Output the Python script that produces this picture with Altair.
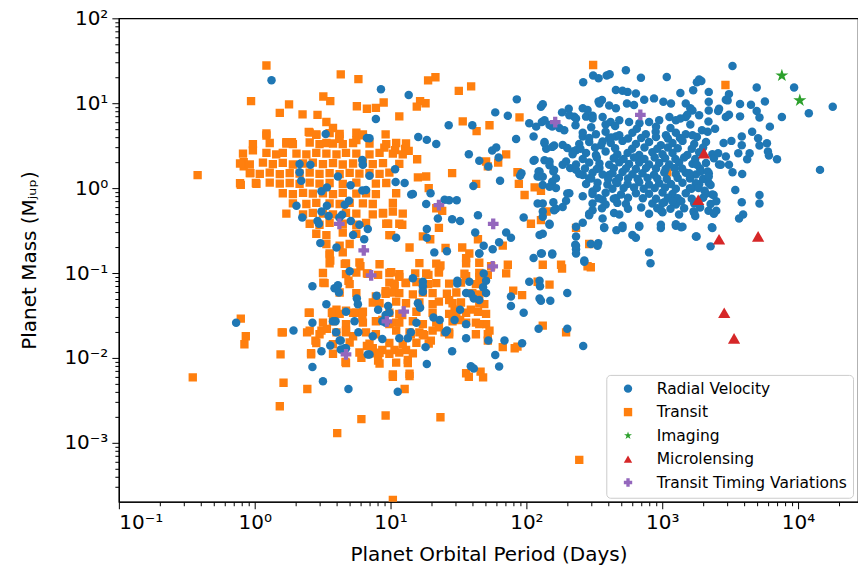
import altair as alt
import pandas as pd

# ---------------- data (period in days, mass in M_jup) ----------------
rv_points = [
    (1.33, 18.6), (3.33, 4.35), (6.7, 3.9), (2.14, 1.92), (2.57, 1.88), (2.14, 1.54), (2.2, 1.22), (4.1, 1.37),
    (5.08, 1.08), (6.2, 2.15), (6.25, 1.88), (3.1, 0.92), (3.4, 1.02), (2.03, 0.62), (2.24, 0.45), (3.4, 0.62),
    (3.1, 0.53), (3.5, 0.47), (2.9, 0.41), (2.97, 0.38), (4.6, 0.635), (4.94, 0.71), (4.4, 0.485), (4.2, 0.45),
    (5.1, 0.41), (5.9, 0.37), (5.3, 0.28), (6.4, 0.25), (6.8, 0.33), (3.04, 0.225), (4.0, 0.20), (6.2, 0.94),
    (6.6, 0.95), (7.0, 1.4), (7.0, 3.87), (8.5, 14.6), (13.6, 12.5), (7.8, 6.5), (10.8, 1.67), (10.9, 1.18),
    (12.7, 1.15), (14.2, 0.84), (11.0, 0.26),
    (85, 11.1), (59, 7.8), (73, 7.1), (26.8, 5.5), (40, 5.5), (16, 4.0), (18.5, 3.7), (21.7, 3.3), (84, 3.8),
    (37.7, 2.5), (45, 2.1), (56, 2.78), (60, 3.0), (62.5, 2.3), (52.5, 1.8), (113, 2.1), (92, 1.5), (90, 1.4),
    (123, 1.57), (121, 1.37), (64, 1.22), (40.7, 1.06), (14.6, 0.85), (19.7, 0.87), (25, 0.73), (27, 0.72),
    (30.7, 0.72), (18.3, 0.65), (22.3, 0.44), (28.4, 0.43), (32.5, 0.41), (44, 0.48), (18.5, 0.33), (18.5, 0.26),
    (42, 0.30), (71, 0.30), (77, 0.26), (63, 0.23), (48.5, 0.21), (45, 0.17), (56.5, 0.19), (21, 0.175),
    (26, 0.18), (95.5, 0.45), (148, 0.37), (132, 0.53), (158, 0.68), (165, 0.57), (121, 0.66), (125, 0.28),
    (130, 0.17), (155, 0.17), (113, 0.15), (374, 0.345), (229, 0.215), (232, 0.19), (267, 0.14), (338, 0.225),
    (196, 0.71), (132, 1.09),
    (262, 17.7), (310, 21.2), (340, 19.7), (390, 21.2), (410, 22), (456, 14.3), (128, 9.1), (132, 9.7),
    (183, 7.8), (205, 8.6), (260, 8.7), (340, 10.5), (360, 10.9), (407, 9.4), (456, 8.7), (105, 5.8),
    (118, 5.3), (130, 6.0), (148, 5.55), (175, 5.1), (225, 6.95), (275, 6.95), (307, 7.1), (113, 4.06),
    (136, 3.38), (140, 2.9), (160, 3.18), (185, 3.23), (200, 2.96), (219, 2.7), (232, 2.8), (260, 4.06),
    (364, 3.54), (407, 3.87), (456, 4.06), (115, 2.15), (125, 1.57), (125, 1.37), (148, 2.06), (158, 1.57),
    (165, 1.31), (185, 1.88), (196, 2.06), (210, 1.72), (232, 1.64), (260, 1.43), (290, 1.31), (345, 1.72),
    (407, 1.43), (456, 1.2), (165, 1.0), (207, 0.87), (260, 0.80), (307, 0.91), (364, 0.73), (456, 0.76),
    (307, 0.55), (290, 0.48), (364, 0.44), (260, 0.39), (460, 0.32),
    (540, 24.4), (697, 20), (1080, 20.4), (1870, 19.0), (1940, 18.3), (1690, 14.2), (1360, 13.2), (2200, 13.6),
    (2200, 10.4), (2940, 11), (510, 14.0), (556, 13.6), (640, 13.0), (737, 11), (870, 11.4), (1020, 10.4),
    (1160, 9.9), (1490, 9.9), (345, 9.9), (550, 9.9), (620, 9.5), (207, 7.2), (232, 6.6), (282, 8.3),
    (307, 6.6), (136, 6.3), (155, 5.3), (190, 4.8), (364, 6.9), (383, 5.6), (417, 6.0), (483, 6.3),
    (570, 6.0), (680, 5.8), (800, 6.0), (950, 6.3), (1130, 6.9), (1260, 6.3), (1490, 6.9), (1670, 8.2),
    (1870, 7.2), (2200, 8.2), (2620, 8.6), (2940, 6.9), (3030, 10.8),
    (260, 4.5), (325, 4.3), (383, 4.6), (483, 4.2), (603, 4.5), (757, 4.3), (895, 4.6), (1065, 4.2), (1260, 4.5),
    (1490, 4.3),
    (245, 3.3), (290, 3.5), (355, 3.2), (418, 3.4), (510, 3.6), (640, 3.3), (800, 3.5), (977, 3.2), (1190, 3.4),
    (1410, 3.6), (1720, 3.3), (2100, 3.5),
    (219, 2.5), (275, 2.6), (325, 2.45), (383, 2.7), (467, 2.5), (556, 2.6), (677, 2.45), (846, 2.65), (1005, 2.5),
    (1190, 2.6), (1530, 2.45), (1870, 2.65), (2340, 2.5),
    (232, 1.9), (290, 2.0), (345, 1.95), (407, 1.88), (483, 2.02), (570, 1.92), (677, 2.0), (800, 1.9), (950, 1.98),
    (1125, 1.9), (1330, 2.0), (1670, 1.93), (2100, 1.98), (2620, 1.9),
    (245, 1.47), (307, 1.52), (364, 1.45), (430, 1.5), (510, 1.55), (603, 1.46), (715, 1.5), (870, 1.44),
    (1035, 1.53), (1260, 1.47), (1490, 1.52), (1770, 1.45), (2200, 1.5),
    (275, 1.12), (334, 1.16), (395, 1.1), (467, 1.15), (556, 1.12), (677, 1.17), (800, 1.1), (950, 1.14),
    (1160, 1.12), (1410, 1.16), (1870, 1.11), (2200, 1.15),
    (307, 0.85), (383, 0.88), (497, 0.84), (640, 0.87), (800, 0.86), (1005, 0.89), (1190, 0.85), (1490, 0.87),
    (2100, 0.86), (2340, 0.84),
    (307, 0.66), (383, 0.64), (467, 0.67), (540, 0.65), (846, 0.66), (1035, 0.68), (1260, 0.64), (1720, 0.66),
    (2270, 0.65),
    (290, 0.5), (442, 0.51), (483, 0.49), (800, 0.5), (1005, 0.52), (1330, 0.49), (1720, 0.51), (2400, 0.5),
    (232, 0.35), (374, 0.34), (510, 0.36), (677, 0.35), (977, 0.34), (1260, 0.36), (1410, 0.35), (2340, 0.34),
    (232, 0.27), (640, 0.26), (1770, 0.27), (232, 0.21), (298, 0.22), (334, 0.21),
    (128, 0.17), (155, 0.165), (232, 0.17), (800, 0.175),
    (290, 3.9), (420, 3.95), (560, 3.85), (700, 3.9), (900, 4.0), (1100, 3.85), (1350, 3.9), (1800, 4.0),
    (250, 2.9), (320, 3.0), (450, 2.95), (600, 2.9), (740, 3.0), (920, 2.9), (1100, 3.0), (1300, 2.95),
    (1650, 2.9), (2000, 3.0),
    (260, 2.2), (330, 2.3), (440, 2.25), (520, 2.2), (620, 2.3), (740, 2.2), (880, 2.3), (1050, 2.25),
    (1250, 2.2), (1450, 2.3), (1750, 2.2), (2400, 2.25),
    (270, 1.7), (330, 1.68), (440, 1.72), (540, 1.7), (640, 1.68), (760, 1.72), (900, 1.7), (1060, 1.68),
    (1230, 1.72), (1400, 1.7), (1900, 1.7),
    (300, 1.3), (400, 1.28), (480, 1.32), (560, 1.3), (660, 1.28), (780, 1.32), (920, 1.3), (1080, 1.28),
    (1300, 1.32), (1600, 1.3), (2000, 1.28),
    (330, 1.0), (430, 0.98), (520, 1.0), (620, 1.02), (730, 0.98), (880, 1.0), (1050, 1.02), (1260, 0.98),
    (1600, 1.0),
    (340, 0.76), (440, 0.75), (560, 0.77), (720, 0.76), (900, 0.75), (1100, 0.77), (1300, 0.76), (1650, 0.75),
    (2000, 0.77),
    (360, 0.58), (560, 0.57), (700, 0.59), (920, 0.58), (1150, 0.57), (1450, 0.58), (1900, 0.59),
    (230, 5.5), (300, 5.2), (450, 5.4), (650, 5.0), (900, 5.3), (1150, 5.1),
    (136, 3.5), (155, 3.06), (136, 2.13), (148, 1.86), (160, 1.63), (132, 1.36), (155, 1.19), (148, 1.04),
    (200, 0.866), (185, 0.6), (132, 0.66), (160, 0.55), (132, 0.46), (148, 0.38), (132, 0.29),
    (3290, 27.5), (1800, 17.7), (3100, 12.8), (4960, 15.3), (9350, 15.3), (5700, 10.5), (3740, 9.8), (4500, 9.6),
    (2580, 8.1), (3100, 7.3), (3740, 7.0), (4960, 8.1), (5200, 6.8), (7600, 6.9), (12000, 7.6), (18000, 9.1),
    (6200, 5.3), (2190, 6.1), (2450, 5.0), (1610, 5.6), (1670, 4.2), (1960, 4.8), (2160, 4.6), (2830, 3.4),
    (3230, 3.6), (3850, 4.06), (3850, 3.2), (4590, 4.6), (5080, 3.87), (5200, 3.18), (5900, 3.38), (4400, 2.58),
    (4220, 2.19), (3630, 2.58), (6000, 2.7), (6100, 2.42), (7000, 2.19), (2580, 2.58), (2940, 2.36), (2700, 1.88),
    (3100, 1.88), (3290, 1.54), (3880, 1.47), (14500, 1.64), (1580, 1.5), (1800, 1.88), (1920, 1.57), (2160, 1.57),
    (2200, 1.37), (2270, 1.09), (1770, 1.14), (1640, 0.98), (1850, 1.0), (2050, 0.93), (2390, 0.83), (2500, 0.70),
    (2190, 0.54), (2500, 0.54), (1700, 0.53), (1750, 0.47), (3450, 0.95), (3850, 0.68), (5200, 0.83), (5200, 0.66),
    (3940, 0.49), (3680, 0.44), (2320, 0.345), (1790, 0.27), (2270, 0.206), (977, 0.37), (1260, 0.375),
    (1380, 0.345), (603, 0.28), (510, 0.34), (677, 0.36), (820, 0.13), (1190, 0.70), (1380, 0.70), (1005, 0.67),
    (977, 0.55), (1610, 8.7), (1530, 7.3), (1360, 6.6),
    (5.0, 0.105), (2.66, 0.070), (4.1, 0.072), (3.87, 0.066), (4.17, 0.059), (3.37, 0.043), (5.65, 0.050),
    (5.75, 0.043), (4.7, 0.035), (2.66, 0.026), (3.77, 0.027), (3.94, 0.027), (5.43, 0.027), (1.93, 0.021),
    (3.97, 0.020), (5.8, 0.020), (4.22, 0.016), (3.1, 0.012), (3.6, 0.014), (4.7, 0.013), (6.8, 0.011),
    (2.66, 0.0078), (3.18, 0.0053), (4.9, 0.0043), (0.73, 0.026), (14.6, 0.087), (17.3, 0.079), (17.3, 0.070),
    (17.3, 0.060), (7.9, 0.054), (31, 0.081), (31, 0.075), (38, 0.079), (48.5, 0.099), (50.5, 0.081), (48, 0.068),
    (50.5, 0.058), (36, 0.058), (39, 0.057), (41, 0.050), (32.5, 0.037), (105, 0.079), (125, 0.081), (126, 0.070),
    (125, 0.050), (128, 0.047), (150, 0.047), (77, 0.053), (77, 0.041), (95.5, 0.034), (200, 0.058), (267, 0.136),
    (8.1, 0.037), (9.6, 0.041), (9.0, 0.028), (9.8, 0.034), (9.2, 0.026), (15.9, 0.044), (16.5, 0.039),
    (20.7, 0.030), (23, 0.028), (15.5, 0.026), (29.6, 0.028), (36, 0.025), (7.4, 0.018), (8.7, 0.0167),
    (11.6, 0.017), (13.4, 0.017), (14.1, 0.020), (25.4, 0.020), (26, 0.021), (36, 0.017), (18.1, 0.0134),
    (28.4, 0.012), (52.5, 0.016), (69, 0.016), (93, 0.0149), (59, 0.0108), (63, 0.0079), (39, 0.0080),
    (41, 0.0075), (18.5, 0.0085), (200, 0.022), (123, 0.022), (262, 0.0138), (11.3, 0.0040), (7.0, 0.011),
    (4.3, 0.016), (4.6, 0.013), (4.3, 0.0126), (9.2, 0.032), (8.7, 0.027), (45, 0.048), (45, 0.17),
]

transit_points = [
    (0.38, 1.42), (1.22, 27.8), (4.3, 21.9), (5.8, 19.2), (0.94, 10.6), (3.2, 12.0), (3.6, 10.6), (1.79, 9.7),
    (1.53, 7.7), (2.25, 7.4), (2.9, 7.3), (5.65, 9.2), (6.7, 8.6), (3.37, 6.0), (3.77, 5.1), (4.2, 4.06),
    (1.22, 4.17), (2.5, 4.6), (2.84, 4.24), (1.71, 3.48), (1.88, 3.48), (0.97, 2.78), (0.83, 2.02), (0.83, 1.8),
    (0.93, 1.5), (0.79, 1.09), (1.02, 1.15), (7.8, 8.8), (8.9, 10.2), (11.6, 7.0), (9.2, 4.3), (5.6, 3.67),
    (5.9, 4.2), (9.0, 3.0), (10.8, 2.8), (12.8, 2.9), (4.2, 3.8), (11.6, 0.38), (12.2, 0.37), (9.6, 0.38),
    (10.4, 0.53), (8.8, 0.50), (3.56, 0.163),
    (310, 28.2), (18.9, 18.6), (21.4, 20.2), (31.8, 14.0), (39.2, 15.8), (16.5, 10.6), (18.1, 10.0), (15.6, 9.1),
    (34, 6.1), (43, 4.7), (53.5, 5.5), (89, 6.8), (13.6, 2.75), (15.7, 2.19), (71, 2.5), (62, 2.0), (50.5, 2.06),
    (52, 1.8), (28.4, 1.5), (15.9, 1.34), (18.3, 1.37), (19.1, 1.0), (42.7, 1.12), (86, 1.54), (88, 1.12),
    (97, 0.83), (115, 1.02), (128, 0.93), (13.8, 0.20), (10.1, 0.28), (21.7, 0.58), (24, 0.54), (22.7, 0.34),
    (17.3, 0.27), (19.6, 0.25), (25.4, 0.197), (33.7, 0.20), (38, 0.17), (44, 0.25), (36, 0.15), (67, 0.21),
    (23.3, 0.123), (73, 0.125), (180, 0.125), (282, 0.12), (298, 0.117), (132, 0.125), (290, 0.22), (232, 0.34),
    (108, 0.38), (128, 0.42), (141, 0.53), (2920, 16.4), (1090, 1.53),
    (3.6, 0.14), (4.7, 0.13), (6.0, 0.12), (6.7, 0.099), (3.2, 0.077), (4.9, 0.081), (4.22, 0.059), (2.5, 0.034),
    (3.7, 0.034), (4.0, 0.037), (4.7, 0.036), (5.6, 0.034), (6.2, 0.030), (0.79, 0.029), (1.58, 0.020),
    (2.43, 0.020), (2.8, 0.016), (3.1, 0.021), (3.4, 0.022), (4.7, 0.020), (5.3, 0.018), (0.86, 0.018),
    (0.84, 0.0145), (1.55, 0.011), (2.6, 0.011), (4.66, 0.009), (6.1, 0.010), (6.7, 0.0138), (1.63, 0.0051),
    (2.44, 0.0043), (0.35, 0.0059), (1.53, 0.0027), (6.1, 0.0019), (4.05, 0.0013),
    (10.1, 0.102), (11.6, 0.090), (8.1, 0.095), (12.9, 0.077), (15.2, 0.099), (19.0, 0.095), (23, 0.12),
    (22.7, 0.104), (36, 0.092), (45, 0.090), (52, 0.095), (55, 0.12), (71, 0.099), (93, 0.055), (80, 0.062),
    (121, 0.079), (148, 0.073), (183, 0.113), (27, 0.048), (29.6, 0.037), (32.5, 0.028), (39, 0.037), (44, 0.035),
    (42.5, 0.026), (50.5, 0.025), (49, 0.043), (7.8, 0.053), (9.2, 0.061), (10.7, 0.070), (8.7, 0.028),
    (11, 0.026), (12.2, 0.032), (14.1, 0.019), (16.3, 0.020), (17.7, 0.0185), (19.8, 0.016), (22.7, 0.023),
    (25, 0.020), (27, 0.019), (52, 0.019), (52, 0.016), (67, 0.0134), (82, 0.013), (86, 0.0136), (132, 0.024),
    (196, 0.020), (37.7, 0.006), (46, 0.0069), (48, 0.0059), (10.4, 0.006), (13.8, 0.0061), (12.7, 0.0043),
    (7.4, 0.013), (8.7, 0.0124), (10.7, 0.0124), (13, 0.0124), (13.4, 0.0095), (8.1, 0.0093), (9.2, 0.0021),
    (23.3, 0.0020), (245, 0.00063), (10.4, 0.000213),
    (3.56, 0.13), (4.6, 0.128), (5.9, 0.133), (8.3, 0.127), (16.3, 0.131), (21.7, 0.129), (36, 0.13), (45, 0.132),
    (3.18, 0.1), (4.7, 0.097), (5.6, 0.101), (6.8, 0.098), (9.8, 0.1), (11.6, 0.097), (18.3, 0.099), (22.7, 0.101),
    (35, 0.098), (45, 0.1),
    (3.27, 0.076), (5.0, 0.074), (9.8, 0.077), (10.7, 0.075), (13, 0.076), (15.5, 0.078), (18.9, 0.074),
    (21.7, 0.076), (27, 0.075), (33, 0.077), (42.5, 0.074), (47.5, 0.076),
    (5.6, 0.058), (9.2, 0.057), (10.4, 0.059), (11.6, 0.058), (14.6, 0.056), (17.3, 0.059), (20.4, 0.058),
    (26, 0.057), (30.5, 0.059), (40, 0.058), (45, 0.056),
    (7.4, 0.045), (8.3, 0.044), (11, 0.046), (13, 0.044), (16.3, 0.045), (20.4, 0.043), (22.7, 0.046),
    (28.6, 0.044), (33, 0.045), (45, 0.044),
    (2.54, 0.034), (3.77, 0.035), (4.22, 0.033), (5.3, 0.034), (6.26, 0.035), (9.8, 0.034), (11.6, 0.033),
    (15.5, 0.035), (20.4, 0.034), (27, 0.033), (30.5, 0.035), (36, 0.034), (50.5, 0.033),
    (3.18, 0.026), (3.77, 0.027), (4.7, 0.025), (6.26, 0.026), (7.8, 0.027), (9.8, 0.025), (11.6, 0.026),
    (14.6, 0.027), (17.3, 0.025), (21.7, 0.026), (28.6, 0.027), (36, 0.026), (45, 0.025),
    (1.61, 0.02), (2.54, 0.021), (3.0, 0.019), (4.0, 0.02), (4.7, 0.021), (6.6, 0.02), (7.8, 0.019), (11, 0.021),
    (13.8, 0.02), (17.3, 0.019), (20.4, 0.021), (27, 0.02), (42.5, 0.019), (53.5, 0.021),
    (2.84, 0.015), (3.77, 0.0145), (5.0, 0.0152), (7.0, 0.0147), (9.8, 0.015), (12.3, 0.0146), (15.5, 0.0151),
    (19.1, 0.0148),
    (2.6, 0.0114), (3.77, 0.0112), (5.9, 0.0116), (7.4, 0.0113), (8.3, 0.0115), (9.8, 0.0112), (11.6, 0.0116),
    (14.6, 0.0113), (4.7, 0.0087), (8.3, 0.0086), (11, 0.0088), (13.4, 0.0087), (10.4, 0.0064), (13.8, 0.0065),
    (36, 0.0066),
    (1.22, 4.4), (2.54, 4.5), (2.84, 4.3), (3.56, 4.45), (4.22, 4.35), (5.6, 4.5), (6.26, 4.3),
    (0.97, 3.3), (1.29, 3.4), (1.71, 3.35), (1.91, 3.3), (2.54, 3.45), (3.0, 3.3), (3.37, 3.4), (3.77, 3.35),
    (4.45, 3.3), (5.3, 3.4), (7.0, 3.35), (9.3, 3.3), (11.0, 3.4), (13, 3.35),
    (0.82, 2.55), (1.22, 2.6), (1.44, 2.5), (1.61, 2.6), (2.03, 2.55), (2.4, 2.5), (2.84, 2.6), (3.37, 2.55),
    (4.0, 2.5), (4.7, 2.6), (5.6, 2.55), (7.0, 2.5), (8.3, 2.6), (10.4, 2.55), (12.3, 2.5),
    (0.78, 1.95), (0.92, 1.9), (1.15, 2.0), (1.36, 1.92), (1.61, 1.98), (1.91, 1.9), (2.27, 1.95), (2.68, 2.0),
    (3.18, 1.92), (3.77, 1.97), (4.45, 1.9), (5.3, 1.95), (6.26, 2.0), (7.4, 1.92), (8.8, 1.97), (11.6, 1.93),
    (0.92, 1.5), (1.09, 1.47), (1.29, 1.52), (1.53, 1.46), (1.81, 1.5), (2.14, 1.48), (2.54, 1.52), (3.0, 1.47),
    (3.56, 1.5), (4.22, 1.46), (5.0, 1.51), (5.9, 1.48), (7.0, 1.5), (8.3, 1.47), (9.8, 1.52),
    (0.78, 1.14), (1.03, 1.12), (1.29, 1.16), (1.53, 1.13), (1.81, 1.15), (2.14, 1.12), (2.54, 1.16), (3.0, 1.13),
    (3.56, 1.15), (4.45, 1.12), (5.6, 1.16), (7.8, 1.13), (9.3, 1.15),
    (1.61, 0.87), (1.91, 0.85), (2.27, 0.88), (2.68, 0.86), (3.18, 0.87), (3.77, 0.85), (4.45, 0.88), (5.6, 0.86),
    (6.6, 0.87), (7.8, 0.85), (11.0, 0.87),
    (1.91, 0.66), (2.4, 0.65), (2.84, 0.67), (3.56, 0.66), (4.22, 0.65), (5.0, 0.67), (6.26, 0.66), (7.4, 0.65),
    (10.4, 0.67),
    (1.71, 0.5), (2.27, 0.49), (2.68, 0.51), (3.18, 0.5), (3.77, 0.49), (4.7, 0.51), (5.6, 0.5), (7.4, 0.49),
    (8.8, 0.51), (12.3, 0.5),
    (2.54, 0.38), (3.0, 0.37), (3.56, 0.39), (4.45, 0.38), (5.6, 0.37), (6.6, 0.39), (9.3, 0.38),
    (2.84, 0.29), (3.37, 0.28), (4.45, 0.3), (5.6, 0.29), (9.8, 0.28), (3.37, 0.22), (4.22, 0.21), (5.0, 0.22),
    (3.56, 0.17), (4.45, 0.175),
]

imaging_points = [(7600, 21.2), (10300, 10.8)]
microlensing_points = [(2030, 2.58), (1840, 0.73), (2620, 0.25), (5080, 0.27), (2860, 0.034), (3380, 0.017)]
ttv_points = [(163, 6.0), (690, 7.3), (22.7, 0.63), (57, 0.38), (56.5, 0.12), (4.2, 0.38), (6.35, 0.185),
              (7.2, 0.094), (12.5, 0.035), (9.4, 0.027), (4.7, 0.011)]

methods = ["Radial Velocity", "Transit", "Imaging", "Microlensing", "Transit Timing Variations"]
colors = ["#1f77b4", "#ff7f0e", "#2ca02c", "#d62728", "#9467bd"]
STAR = ("M0,-1L0.225,-0.309L0.951,-0.309L0.363,0.118L0.588,0.809L0,0.382L-0.588,0.809"
        "L-0.363,0.118L-0.951,-0.309L-0.225,-0.309Z")
shapes = ["circle", "square", STAR, "triangle-up", "cross"]
marker_size = {"Radial Velocity": 72, "Transit": 70, "Imaging": 190, "Microlensing": 150,
               "Transit Timing Variations": 115}

x_major = [0.1, 1, 10, 100, 1000, 10000]
x_major_labels = ["10\u207b\u00b9", "10\u2070", "10\u00b9", "10\u00b2", "10\u00b3", "10\u2074"]
y_major = [0.001, 0.01, 0.1, 1, 10, 100]
y_major_labels = ["10\u207b\u00b3", "10\u207b\u00b2", "10\u207b\u00b9", "10\u2070", "10\u00b9", "10\u00b2"]

W, H = 740, 484
X_MIN = 0.1
X_MAX = 10 ** (-1 + W / 136.0)
Y_MAX = 100
Y_MIN = 10 ** (2 - H / 85.0)

x_ticks = [m * d for d in [0.1, 1, 10, 100, 1000, 10000] for m in range(1, 10) if X_MIN <= m * d <= X_MAX]
y_ticks = [m * d for d in [0.0001, 0.001, 0.01, 0.1, 1, 10] for m in range(1, 10) if Y_MIN <= m * d <= Y_MAX]
y_ticks.append(100)

# draw order: transit below radial velocity, special methods on top
draw_order = [("Transit", transit_points), ("Radial Velocity", rv_points), ("Imaging", imaging_points),
              ("Microlensing", microlensing_points), ("Transit Timing Variations", ttv_points)]
rows = []
for name, pts in draw_order:
    for p, m in pts:
        rows.append({"method": name, "period": p, "mass": m})
df = pd.DataFrame(rows)


def label_expr(vals, labels):
    expr = "''"
    for v, lab in reversed(list(zip(vals, labels))):
        expr = f"datum.value == {v} ? '{lab}' : ({expr})"
    return expr


def tick_size(vals):
    arr = ",".join(str(v) for v in vals)
    return {"condition": {"test": f"indexof([{arr}], datum.value) >= 0", "value": 7}, "value": 4}


FONT = "DejaVu Sans"
legend = alt.Legend(
    title=None, orient="none", legendX=488, legendY=357, padding=6, rowPadding=6.5,
    symbolSize=70, symbolStrokeWidth=0, symbolOffset=8, labelFontSize=15.5, labelFont=FONT, labelColor="black",
    labelOffset=21, strokeColor="#cccccc", fillColor="white", cornerRadius=4, labelLimit=400,
)

x_enc = alt.X("period:Q",
              scale=alt.Scale(type="log", domain=[X_MIN, X_MAX], nice=False),
              axis=alt.Axis(values=x_ticks, labelExpr=label_expr(x_major, x_major_labels), grid=False,
                            title="Planet Orbital Period (Days)", tickSize=tick_size(x_major),
                            labelPadding=4, titleY=53, titleBaseline="middle"))
y_enc = alt.Y("mass:Q",
              scale=alt.Scale(type="log", domain=[Y_MIN, Y_MAX], nice=False),
              axis=alt.Axis(values=y_ticks, labelExpr=label_expr(y_major, y_major_labels), grid=False,
                            title="Planet Mass (M\u2c7c\u1d64\u209a)", tickSize=tick_size(y_major),
                            labelPadding=4, titleX=-89, titleY=H / 2, titleBaseline="middle",
                            titleAlign="center", titleAngle=270))
color_enc = alt.Color("method:N", scale=alt.Scale(domain=methods, range=colors), legend=legend)
shape_enc = alt.Shape("method:N", scale=alt.Scale(domain=methods, range=shapes), legend=legend)

base = alt.Chart(df)
layers = []
for name, _ in draw_order:
    layers.append(
        base.transform_filter(alt.datum.method == name)
        .mark_point(filled=True, opacity=1, clip=True, size=marker_size[name])
        .encode(x=x_enc, y=y_enc, color=color_enc, shape=shape_enc)
    )

chart = alt.layer(*layers).properties(
    width=W, height=H,
    padding={"left": 119, "top": 18, "right": 0, "bottom": 75},
    autosize=alt.AutoSizeParams(type="none"),
    background="white",
).configure_view(
    stroke="black", strokeWidth=1.2
).configure_axis(
    grid=False, domainColor="black", domainWidth=1.2, tickColor="black", tickWidth=1,
    labelFont=FONT, labelFontSize=20, labelColor="black",
    titleFont=FONT, titleFontSize=20, titleFontWeight="normal", titleColor="black",
)

chart.save("out.html", embed_options={"renderer": "svg", "actions": False})
